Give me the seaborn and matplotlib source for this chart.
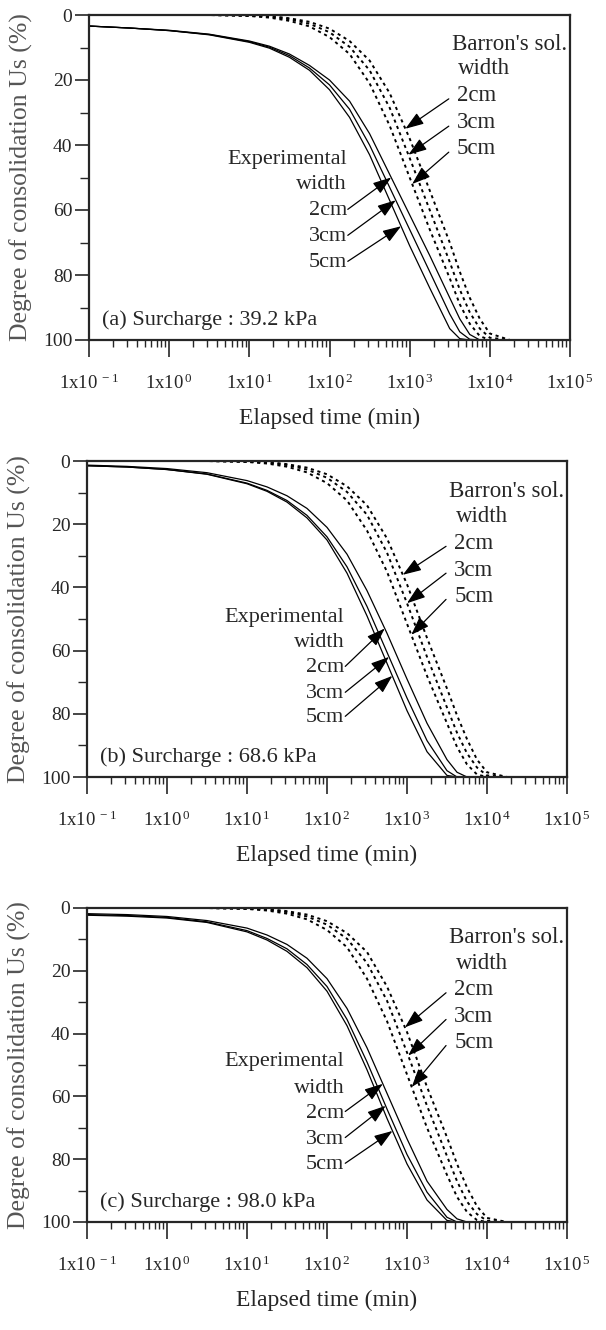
import numpy as np
import pandas as pd
import matplotlib
matplotlib.use("Agg")
import matplotlib.pyplot as plt
from matplotlib.ticker import FixedLocator, LogLocator, NullFormatter
import seaborn as sns

# ---------------- data ----------------
TIME_MIN = [0.1, 0.316, 1, 3.16, 10, 17.8, 31.6, 56.2, 100, 178, 316, 562,
            1000, 1780, 3160, 4220, 5620, 7500, 10000, 17800, 31600, 100000]
WIDTHS = ["2cm", "3cm", "5cm"]
X_TICKS = [0.1, 1, 10, 100, 1000, 10000, 100000]
X_TICK_LABELS = [r"1x10$^{\,-1}$", r"1x10$^{\,0}$", r"1x10$^{\,1}$", r"1x10$^{\,2}$",
                 r"1x10$^{\,3}$", r"1x10$^{\,4}$", r"1x10$^{\,5}$"]
Y_TICKS = [0, 20, 40, 60, 80, 100]
PANEL_TITLES = ["(a) Surcharge : 39.2 kPa", "(b) Surcharge : 68.6 kPa", "(c) Surcharge : 98.0 kPa"]

# (a) 39.2 kPa  -- experimental (solid) and Barron's solution (dashed), Us (%)
EXP_A_2 = [3.4, 4.0, 4.7, 5.9, 8.0, 9.6, 12.0, 15.5, 20.0, 26.5, 36.5, 49.0, 61.5, 74.0, 87.0, 93.5, 98.3, 100, 100, 100, 100, 100]
EXP_A_3 = [3.4, 4.0, 4.8, 6.0, 8.2, 9.9, 12.5, 16.3, 21.5, 29.0, 40.0, 53.0, 66.0, 79.0, 92.0, 97.5, 99.8, 100, 100, 100, 100, 100]
EXP_A_5 = [3.4, 4.0, 4.8, 6.1, 8.4, 10.2, 13.0, 17.0, 23.0, 31.5, 43.0, 57.0, 71.0, 84.0, 96.5, 99.6, 100, 100, 100, 100, 100, 100]
BAR_A_2 = [0, 0, 0, 0, 0.1, 0.3, 1.0, 2.1, 4.2, 8.0, 14.0, 24.0, 38.0, 54.0, 70.0, 79.0, 87.0, 93.5, 98.0, 100, 100, 100]
BAR_A_3 = [0, 0, 0, 0, 0.2, 0.5, 1.3, 2.7, 5.3, 9.8, 17.0, 28.5, 44.0, 60.0, 76.0, 84.5, 91.5, 96.5, 99.3, 100, 100, 100]
BAR_A_5 = [0, 0, 0, 0, 0.3, 0.8, 1.8, 3.5, 6.8, 12.0, 21.0, 34.0, 50.0, 66.0, 81.0, 89.0, 95.0, 98.8, 100, 100, 100, 100]

# (b) 68.6 kPa
EXP_B_2 = [1.3, 1.7, 2.4, 3.7, 6.2, 8.2, 11.0, 15.0, 21.0, 29.5, 41.0, 54.5, 69.0, 83.0, 94.5, 98.5, 100, 100, 100, 100, 100, 100]
EXP_B_3 = [1.5, 1.9, 2.7, 4.1, 7.0, 9.3, 12.5, 17.2, 24.0, 33.5, 46.0, 60.5, 75.0, 88.5, 98.0, 100, 100, 100, 100, 100, 100, 100]
EXP_B_5 = [1.5, 1.9, 2.7, 4.2, 7.2, 9.6, 13.0, 18.0, 25.0, 35.5, 49.0, 64.0, 79.0, 92.0, 99.5, 100, 100, 100, 100, 100, 100, 100]
BAR_B_2 = [0, 0, 0, 0, 0.1, 0.3, 1.0, 2.1, 4.2, 8.0, 14.0, 24.5, 39.0, 56.0, 72.0, 80.5, 88.0, 94.5, 98.5, 100, 100, 100]
BAR_B_3 = [0, 0, 0, 0, 0.2, 0.5, 1.3, 2.7, 5.3, 9.8, 17.0, 29.0, 45.0, 62.0, 78.0, 86.0, 92.5, 97.0, 99.5, 100, 100, 100]
BAR_B_5 = [0, 0, 0, 0, 0.3, 0.8, 1.8, 3.6, 7.0, 12.5, 22.0, 35.0, 51.5, 68.0, 83.0, 90.5, 96.0, 99.2, 100, 100, 100, 100]

# (c) 98.0 kPa
EXP_C_2 = [1.8, 2.1, 2.7, 4.0, 6.4, 8.6, 11.6, 16.0, 22.5, 32.0, 44.5, 59.0, 73.5, 87.0, 96.0, 99.0, 100, 100, 100, 100, 100, 100]
EXP_C_3 = [2.1, 2.4, 3.0, 4.4, 7.2, 9.7, 13.0, 18.0, 25.0, 35.5, 49.0, 64.0, 78.5, 90.5, 98.5, 100, 100, 100, 100, 100, 100, 100]
EXP_C_5 = [2.3, 2.6, 3.2, 4.6, 7.6, 10.2, 13.8, 19.0, 26.5, 37.5, 51.5, 67.0, 81.5, 93.0, 99.5, 100, 100, 100, 100, 100, 100, 100]
BAR_C_2 = [0, 0, 0, 0, 0.1, 0.3, 1.0, 2.1, 4.2, 8.0, 14.0, 25.0, 39.5, 57.0, 73.0, 81.5, 89.0, 95.0, 98.7, 100, 100, 100]
BAR_C_3 = [0, 0, 0, 0, 0.2, 0.5, 1.3, 2.7, 5.3, 9.8, 17.5, 29.5, 46.0, 63.0, 79.0, 87.0, 93.5, 97.5, 99.6, 100, 100, 100]
BAR_C_5 = [0, 0, 0, 0, 0.3, 0.8, 1.8, 3.6, 7.0, 12.5, 22.5, 36.0, 53.0, 70.0, 85.0, 92.0, 96.8, 99.4, 100, 100, 100, 100]

EXP = [[EXP_A_2, EXP_A_3, EXP_A_5], [EXP_B_2, EXP_B_3, EXP_B_5], [EXP_C_2, EXP_C_3, EXP_C_5]]
BAR = [[BAR_A_2, BAR_A_3, BAR_A_5], [BAR_B_2, BAR_B_3, BAR_B_5], [BAR_C_2, BAR_C_3, BAR_C_5]]

# Us levels where the label arrows touch the curves (2cm, 3cm, 5cm)
EXP_ARROW_US = [[50, 57, 65], [53, 62, 68], [56, 63, 71]]
BAR_ARROW_US = [[35, 43, 52], [36, 45, 55], [38, 47, 57]]

# ---------------- style ----------------
sns.set_style("ticks")
plt.rcParams["font.family"] = ["Liberation Serif", "DejaVu Serif"]
plt.rcParams["mathtext.fontset"] = "custom"
plt.rcParams["mathtext.rm"] = "Liberation Serif"
plt.rcParams["mathtext.default"] = "regular"

W, H = 606, 1330
fig = plt.figure(figsize=(W / 100, H / 100), dpi=100)

# axes boxes in pixels: left, right, top, bottom
BOXES = [(89, 570, 15, 340), (87, 567, 461, 777), (87, 567, 908, 1222)]


def time_at(series, level):
    """log-interpolate the time where a series crosses a given Us level"""
    lt = np.log10(TIME_MIN)
    for i in range(len(series) - 1):
        y0, y1 = series[i], series[i + 1]
        if y0 <= level <= y1 and y1 > y0:
            f = (level - y0) / (y1 - y0)
            return 10 ** (lt[i] + f * (lt[i + 1] - lt[i]))
    return TIME_MIN[-1]


ARROW = dict(arrowstyle="-|>,head_length=0.8,head_width=0.28", color="black",
             lw=0.9, mutation_scale=14, shrinkA=0, shrinkB=0)

for p, (l, r, t, b) in enumerate(BOXES):
    ax = fig.add_axes([l / W, 1 - b / H, (r - l) / W, (b - t) / H])
    rows = []
    for w, exp_s, bar_s in zip(WIDTHS, EXP[p], BAR[p]):
        for tm, u in zip(TIME_MIN, exp_s):
            rows.append(("exp", w, tm, u))
        for tm, u in zip(TIME_MIN, bar_s):
            rows.append(("bar", w, tm, u))
    df = pd.DataFrame(rows, columns=["source", "width", "time", "Us"])

    sns.lineplot(data=df[df.source == "exp"], x="time", y="Us", units="width",
                 estimator=None, color="black", lw=0.9, ax=ax, sort=False)
    sns.lineplot(data=df[df.source == "bar"], x="time", y="Us", units="width",
                 estimator=None, color="black", lw=1.4, ax=ax, sort=False)
    for line in ax.lines[3:]:
        line.set_dashes((1.6, 1.9))

    ax.set_xscale("log")
    ax.set_xlim(0.1, 100000)
    ax.set_ylim(100, 0)

    ax.xaxis.set_major_locator(FixedLocator(X_TICKS))
    ax.set_xticklabels(X_TICK_LABELS)
    ax.xaxis.set_minor_locator(LogLocator(base=10, subs=np.arange(2, 10), numticks=100))
    ax.xaxis.set_minor_formatter(NullFormatter())
    ax.yaxis.set_major_locator(FixedLocator(Y_TICKS))
    ax.yaxis.set_minor_locator(FixedLocator([10, 30, 50, 70, 90]))

    ax.tick_params(axis="x", which="major", direction="out", length=12, width=1.2,
                   pad=12, labelsize=13.5)
    ax.tick_params(axis="x", which="minor", direction="out", length=5, width=1.0)
    ax.tick_params(axis="y", which="major", direction="out", length=10, width=1.2,
                   pad=2, labelsize=14)
    ax.tick_params(axis="y", which="minor", direction="out", length=6.5, width=1.0)
    for s in ax.spines.values():
        s.set_linewidth(1.6)
        s.set_visible(True)

    ax.set_xlabel("Elapsed time (min)", fontsize=17)
    ax.xaxis.set_label_coords(0.5, -68 / (b - t))
    ax.set_ylabel("Degree of consolidation Us (%)", fontsize=18.5, color="#555555")
    ax.yaxis.set_label_coords(-56 / (r - l), 0.5)

    ax.text(0.027, 0.062, PANEL_TITLES[p], transform=ax.transAxes, fontsize=16,
            ha="left", va="center")

    # Barron's solution labels
    by = [0.908, 0.835, 0.752, 0.668, 0.588]
    if p > 0:
        by = [0.905, 0.823, 0.740, 0.655, 0.572]
    ax.text(0.755, by[0], "Barron's sol.", transform=ax.transAxes, fontsize=16.5,
            ha="left", va="center")
    ax.text(0.768, by[1], "width", transform=ax.transAxes, fontsize=16.5,
            ha="left", va="center")
    for k, w in enumerate(WIDTHS):
        ax.text(0.765, by[2 + k], w, transform=ax.transAxes, fontsize=16.5,
                ha="left", va="center")
        tip_u = BAR_ARROW_US[p][k]
        ax.annotate("", xy=(time_at(BAR[p][k], tip_u), tip_u), xycoords="data",
                    xytext=(0.748, by[2 + k] - 0.01), textcoords="axes fraction",
                    arrowprops=ARROW)

    # Experimental labels
    ey = [0.554, 0.477, 0.397, 0.317, 0.237]
    if p == 1:
        ey = [0.506, 0.427, 0.345, 0.263, 0.187]
    if p == 2:
        ey = [0.510, 0.424, 0.347, 0.264, 0.182]
    ax.text(0.536, ey[0], "Experimental", transform=ax.transAxes, fontsize=16,
            ha="right", va="center")
    ax.text(0.536, ey[1], "width", transform=ax.transAxes, fontsize=16,
            ha="right", va="center")
    for k, w in enumerate(WIDTHS):
        ax.text(0.536, ey[2 + k], w, transform=ax.transAxes, fontsize=16,
                ha="right", va="center")
        tip_u = EXP_ARROW_US[p][k]
        ax.annotate("", xy=(time_at(EXP[p][k], tip_u), tip_u), xycoords="data",
                    xytext=(0.538, ey[2 + k] + 0.005), textcoords="axes fraction",
                    arrowprops=ARROW)

fig.savefig("out.png", dpi=100)
